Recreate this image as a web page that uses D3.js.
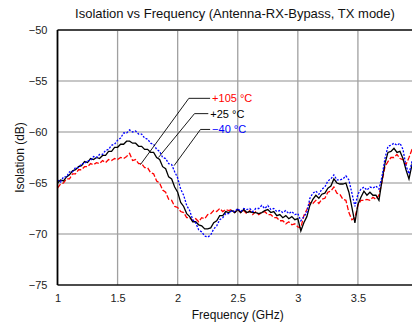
<!DOCTYPE html>
<html><head><meta charset="utf-8">
<script src="https://cdn.jsdelivr.net/npm/d3@7"></script>
<style>body{margin:0;background:#fff;overflow:hidden}svg{display:block;font-family:"Liberation Sans",Arial,sans-serif}</style>
</head><body><svg id="c" width="412" height="328"></svg>
<script>
const title = "Isolation vs Frequency (Antenna-RX-Bypass, TX mode)";
const xTicks = [1, 1.5, 2, 2.5, 3, 3.5];
const yTicks = [-75, -70, -65, -60, -55, -50];
const freqStart = 1.0, freqStep = 0.025;
const seriesNames = ["+105 °C", "+25 °C", "\u221240 °C"];
const t105 = [-65.5,-65.1,-65.0,-64.6,-64.6,-64.1,-64.1,-63.7,-63.7,-63.4,
-63.4,-63.1,-63.2,-63.0,-63.1,-62.8,-63.0,-62.7,-62.8,-62.6,
-62.7,-62.5,-62.6,-62.4,-62.1,-62.8,-62.7,-63.1,-63.1,-63.5,
-63.5,-64.0,-64.1,-64.8,-65.0,-65.7,-65.9,-66.6,-66.7,-67.3,
-67.4,-67.8,-67.9,-68.4,-68.4,-68.7,-68.5,-68.8,-68.4,-68.5,
-68.1,-68.0,-67.7,-67.8,-67.5,-67.8,-67.6,-67.7,-67.6,-67.9,
-67.6,-67.9,-67.7,-68.0,-67.7,-68.1,-67.8,-68.1,-67.9,-67.8,
-68.1,-68.1,-68.4,-68.4,-68.7,-68.7,-69.0,-68.8,-69.1,-69.0,
-69.3,-69.4,-68.2,-67.6,-66.9,-67.0,-66.7,-67.0,-66.6,-66.5,
-65.9,-65.8,-65.4,-66.0,-66.1,-66.6,-66.7,-67.9,-68.6,-68.4,
-67.2,-66.7,-66.7,-66.6,-66.7,-66.4,-66.6,-66.2,-64.9,-63.4,
-62.9,-62.5,-62.5,-62.2,-62.6,-62.7,-63.2,-62.5,-61.7,-61.3];
const t25 = [-65.0,-64.7,-64.8,-64.4,-64.2,-63.8,-63.7,-63.4,-63.3,-62.9,
-63.0,-62.6,-62.7,-62.5,-62.6,-62.3,-62.3,-61.9,-61.9,-61.5,
-61.5,-61.2,-61.2,-60.9,-60.9,-61.1,-61.1,-61.4,-61.4,-61.7,
-61.7,-62.0,-62.0,-62.5,-62.7,-63.4,-63.6,-64.4,-64.6,-65.4,
-65.9,-66.9,-67.3,-68.0,-68.3,-68.8,-68.8,-69.1,-69.2,-69.5,
-69.5,-69.4,-68.9,-68.7,-68.2,-68.2,-67.8,-67.9,-67.7,-67.9,
-67.6,-67.9,-67.6,-67.9,-67.8,-67.9,-67.9,-68.0,-67.9,-67.7,
-67.6,-67.9,-67.8,-68.2,-68.1,-68.4,-68.2,-68.5,-68.3,-68.6,
-68.5,-69.7,-68.9,-68.3,-67.2,-66.6,-66.2,-66.5,-66.1,-66.0,
-65.5,-65.3,-64.6,-65.0,-65.1,-65.1,-65.0,-65.9,-67.4,-68.9,
-67.1,-66.4,-65.8,-66.2,-65.9,-66.2,-66.2,-66.7,-64.8,-63.1,
-62.0,-61.9,-61.6,-62.0,-61.9,-62.6,-63.7,-64.6,-63.2,-62.5];
const tm40 = [-64.7,-64.9,-64.4,-64.4,-63.9,-63.9,-63.5,-63.5,-63.1,-63.1,
-62.8,-62.8,-62.4,-62.5,-62.2,-62.2,-61.8,-61.7,-61.3,-61.2,
-60.8,-60.6,-60.1,-60.1,-59.8,-60.0,-59.9,-60.2,-60.2,-60.6,
-60.7,-61.1,-61.2,-61.7,-61.9,-62.5,-62.6,-63.1,-63.2,-63.9,
-64.5,-65.6,-66.2,-67.2,-67.7,-68.6,-68.9,-69.6,-69.8,-70.2,
-70.3,-70.1,-69.5,-69.2,-68.6,-68.4,-68.0,-68.0,-67.7,-67.8,
-67.5,-67.8,-67.5,-67.6,-67.5,-67.8,-67.5,-67.5,-67.2,-67.5,
-67.2,-67.6,-67.5,-67.8,-67.7,-67.9,-67.7,-68.0,-67.8,-68.1,
-68.0,-68.7,-68.3,-67.9,-66.5,-66.0,-65.8,-66.1,-65.6,-65.4,
-64.8,-64.6,-64.2,-64.7,-64.7,-64.6,-64.3,-64.7,-66.0,-67.3,
-66.1,-65.6,-65.4,-65.7,-65.4,-65.5,-65.3,-65.6,-64.4,-62.6,
-61.4,-61.3,-61.1,-61.3,-61.1,-61.7,-63.3,-64.1,-62.9,-62.6];
// label anchor frequencies / values where leader lines touch each curve
const leaderFreq = [1.69, 1.84, 1.97];
const leaderVal = [-63.2, -62.5, -63.3];

const svg = d3.select("#c");
const L = 57.5, T = 30, B = 285, R = 418;
const x = d3.scaleLinear().domain([1, 4]).range([L, R]);
const y = d3.scaleLinear().domain([-75, -50]).range([B, T]);

svg.append("defs").append("clipPath").attr("id","clip")
  .append("rect").attr("x", L).attr("y", T).attr("width", R - L).attr("height", B - T);

// grid
const g = svg.append("g");
g.selectAll(".hg").data(yTicks.filter(v => v > -75 && v < -50)).enter().append("line")
  .attr("x1", L).attr("x2", R).attr("y1", d => y(d)).attr("y2", d => y(d))
  .attr("stroke", "#b4b4b4").attr("stroke-width", 1.3);
g.selectAll(".vg").data(xTicks.filter(v => v > 1)).enter().append("line")
  .attr("y1", T).attr("y2", B).attr("x1", d => x(d)).attr("x2", d => x(d))
  .attr("stroke", "#a0a0a0").attr("stroke-width", 1.3);

// axes with d3 axis generators (labels only)
const yAxis = svg.append("g").attr("transform", `translate(${L},0)`)
  .call(d3.axisLeft(y).tickValues(yTicks).tickSize(0).tickPadding(10).tickFormat(d3.format("d")));
yAxis.select(".domain").remove();
yAxis.selectAll("text").attr("font-size", 11).attr("fill", "#222").attr("font-family", "Liberation Sans, Arial, sans-serif");
const xAxis = svg.append("g").attr("transform", `translate(0,${B})`)
  .call(d3.axisBottom(x).tickValues(xTicks).tickSize(0).tickPadding(9).tickFormat(d => String(d)));
xAxis.select(".domain").remove();
xAxis.selectAll("text").attr("font-size", 11).attr("fill", "#222").attr("font-family", "Liberation Sans, Arial, sans-serif");

// series
const data = [
  {vals: t105, color: "#ff0000", dash: "5,2"},
  {vals: t25, color: "#000000", dash: null},
  {vals: tm40, color: "#0000ff", dash: "2,1.5"}
];
const line = d3.line().x((d, i) => x(freqStart + i * freqStep)).y(d => y(d));
const pg = svg.append("g").attr("clip-path", "url(#clip)");
data.forEach(s => {
  pg.append("path").attr("d", line(s.vals)).attr("fill", "none")
    .attr("stroke", s.color).attr("stroke-width", 1.3)
    .attr("stroke-dasharray", s.dash);
});

// frame
svg.append("line").attr("x1", L).attr("x2", 412).attr("y1", T).attr("y2", T).attr("stroke", "#444").attr("stroke-width", 1.8);
svg.append("line").attr("x1", L).attr("x2", 412).attr("y1", B).attr("y2", B).attr("stroke", "#111").attr("stroke-width", 1.5);
svg.append("line").attr("x1", L).attr("x2", L).attr("y1", T).attr("y2", B).attr("stroke", "#000").attr("stroke-width", 1.8);

// legend labels with leader lines
const labColors = ["#ff0000", "#000000", "#0000ff"];
const labY = [-56.7, -58.2, -59.75];
const elbowF = [2.093, 2.14, 2.19];
const endF = [2.27, 2.255, 2.27];
seriesNames.forEach((n, i) => {
  svg.append("polyline")
    .attr("points", [[x(leaderFreq[i]), y(leaderVal[i])], [x(elbowF[i]), y(labY[i])], [x(endF[i]), y(labY[i])]].map(p => p.join(",")).join(" "))
    .attr("fill", "none").attr("stroke", "#000").attr("stroke-width", 0.9);
  svg.append("text").attr("x", x(endF[i]) + 2).attr("y", y(labY[i]) + 4)
    .attr("font-size", 11).attr("fill", labColors[i]).text(n);
});

// titles
svg.append("text").attr("x", 235).attr("y", 18).attr("text-anchor", "middle")
  .attr("font-size", 13).attr("fill", "#111").text(title);
svg.append("text").attr("x", (L + R) / 2).attr("y", 319).attr("text-anchor", "middle")
  .attr("font-size", 12).attr("fill", "#111").text("Frequency (GHz)");
svg.append("text").attr("transform", `translate(24,${(T + B) / 2}) rotate(-90)`).attr("text-anchor", "middle")
  .attr("font-size", 12).attr("fill", "#111").text("Isolation (dB)");
</script></body></html>
